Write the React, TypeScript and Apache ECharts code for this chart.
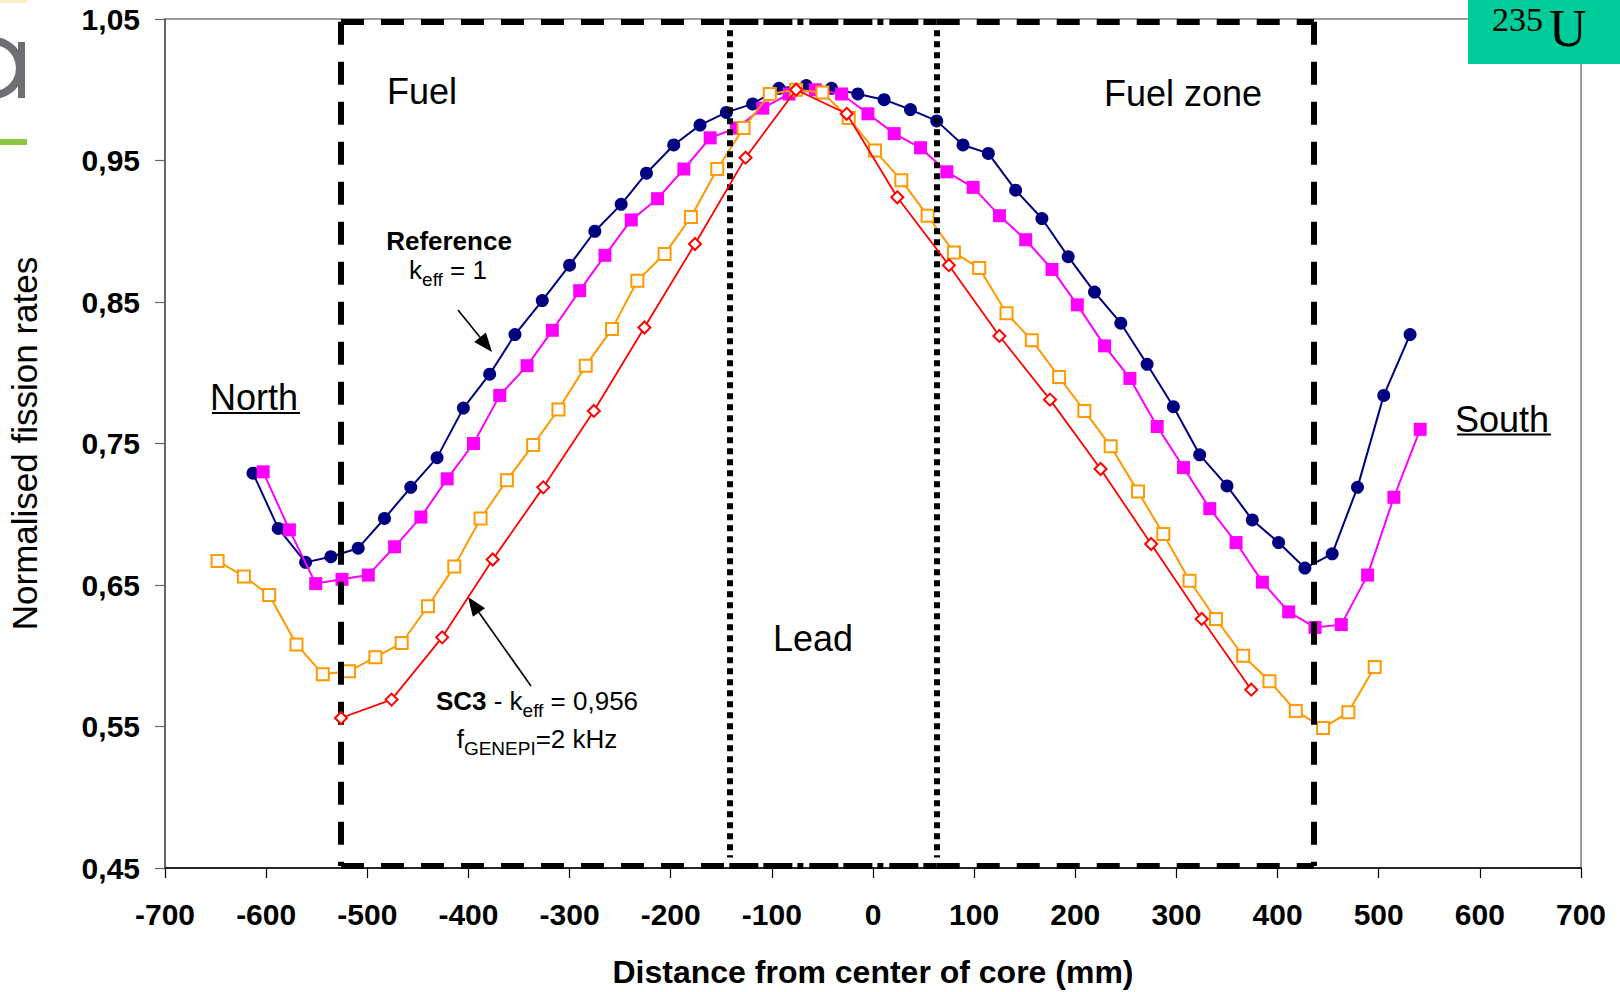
import React, { useEffect, useRef } from "react";
import * as echarts from "echarts";

// ---------- data ----------
const xTicks = { min: -700, max: 700, step: 100 };
const yTicks = { min: 0.45, max: 1.05, step: 0.1 };

// Reference, keff = 1 (navy, filled circles)
const refX = [-613, -588, -561, -536, -509, -483, -457, -431, -405, -379, -354, -327, -300, -275, -249, -224, -197, -171, -145, -119, -93, -66, -41, -15, 11, 37, 63, 89, 114, 141, 167, 193, 219, 245, 271, 297, 323, 350, 375, 401, 427, 454, 479, 505, 531];
const refY = [0.729, 0.690, 0.666, 0.670, 0.676, 0.697, 0.719, 0.740, 0.775, 0.799, 0.827, 0.851, 0.876, 0.900, 0.919, 0.941, 0.961, 0.975, 0.984, 0.990, 1.001, 1.003, 1.001, 0.997, 0.993, 0.986, 0.978, 0.961, 0.955, 0.929, 0.909, 0.882, 0.857, 0.835, 0.806, 0.776, 0.742, 0.720, 0.696, 0.680, 0.662, 0.672, 0.719, 0.784, 0.827];

// second configuration (magenta, filled squares)
const magX = [-603, -577, -551, -525, -499, -473, -447, -421, -395, -369, -342, -317, -290, -265, -239, -213, -187, -161, -135, -109, -83, -57, -31, -5, 21, 47, 73, 99, 125, 151, 177, 202, 229, 254, 281, 307, 333, 359, 385, 411, 437, 463, 489, 515, 541];
const magY = [0.730, 0.689, 0.651, 0.654, 0.657, 0.677, 0.698, 0.725, 0.750, 0.784, 0.805, 0.830, 0.858, 0.883, 0.908, 0.923, 0.944, 0.966, 0.973, 0.987, 0.997, 1.000, 0.997, 0.983, 0.969, 0.959, 0.942, 0.931, 0.911, 0.894, 0.873, 0.848, 0.819, 0.796, 0.762, 0.733, 0.704, 0.680, 0.652, 0.631, 0.620, 0.622, 0.657, 0.712, 0.760];

// third configuration (orange, open squares)
const orgX = [-648, -622, -597, -570, -544, -518, -492, -466, -440, -414, -388, -362, -336, -311, -284, -258, -233, -206, -180, -154, -128, -102, -76, -50, -24, 2, 28, 54, 80, 105, 132, 157, 184, 209, 235, 262, 287, 313, 339, 366, 392, 418, 445, 470, 496];
const orgY = [0.667, 0.656, 0.643, 0.608, 0.587, 0.589, 0.599, 0.609, 0.635, 0.663, 0.697, 0.724, 0.749, 0.774, 0.805, 0.831, 0.865, 0.884, 0.910, 0.944, 0.973, 0.997, 1.000, 0.998, 0.980, 0.957, 0.936, 0.911, 0.885, 0.874, 0.842, 0.823, 0.797, 0.773, 0.748, 0.716, 0.686, 0.653, 0.626, 0.600, 0.582, 0.561, 0.549, 0.560, 0.592];

// SC3, keff = 0,956 (red, open diamonds)
const sc3X = [-526, -476, -426, -376, -326, -276, -226, -176, -126, -76, -26, 24, 75, 125, 175, 225, 275, 325, 374];
const sc3Y = [0.556, 0.569, 0.613, 0.668, 0.719, 0.773, 0.832, 0.891, 0.952, 1.000, 0.983, 0.924, 0.876, 0.826, 0.781, 0.732, 0.679, 0.626, 0.576];

// zone boundaries (mm) and box extent (normalised rate)
const fuelLeft = -526;
const fuelRight = 436;
const leadLeft = -142;
const leadRight = 63;
const boxTop = 1.048;
const boxBottom = 0.4515;

const FONT = "'Liberation Sans', Arial, Helvetica, sans-serif";
const SERIF = "'Liberation Serif', 'Times New Roman', serif";

const zip = (xs: number[], ys: number[]) => xs.map((x, i) => [x, ys[i]]);

const seg = (x1: number, y1: number, x2: number, y2: number, type: any) => [
  { coord: [x1, y1], lineStyle: { color: "#000", width: 6, type, cap: "butt" } },
  { coord: [x2, y2] },
];

const DASH = [23, 17];
const DASHDOT = [29, 5, 29, 5, 6, 6];
const DOT = [6, 5];

function arrow(x1: number, y1: number, x2: number, y2: number) {
  const dx = x2 - x1;
  const dy = y2 - y1;
  const len = Math.sqrt(dx * dx + dy * dy);
  const ux = dx / len;
  const uy = dy / len;
  const hl = 19;
  const hw = 7.5;
  const bx = x2 - ux * hl;
  const by = y2 - uy * hl;
  return [
    { type: "line", shape: { x1, y1, x2: bx, y2: by }, style: { stroke: "#000", lineWidth: 1.6 } },
    {
      type: "polygon",
      shape: { points: [[x2, y2], [bx - uy * hw, by + ux * hw], [bx + uy * hw, by - ux * hw]] },
      style: { fill: "#000" },
    },
  ];
}

const txt = (x: number, y: number, text: string, size: number, align: string, weight = "normal") => ({
  type: "text",
  x,
  y,
  style: {
    text,
    fontSize: size,
    fontFamily: FONT,
    fontWeight: weight,
    fill: "#000",
    align,
    textAlign: align,
    verticalAlign: "middle",
    textVerticalAlign: "middle",
  },
});

const richStyles = {
  b: { fontSize: 26, fontWeight: "bold", fontFamily: FONT, fill: "#000", lineHeight: 30, verticalAlign: "top" },
  n: { fontSize: 26, fontFamily: FONT, fill: "#000", lineHeight: 30, verticalAlign: "top" },
  s: { fontSize: 19, fontFamily: FONT, fill: "#000", lineHeight: 19, padding: [13, 0, 0, 0], verticalAlign: "top" },
};

const rich = (x: number, top: number, text: string) => ({
  type: "text",
  x,
  y: top,
  style: {
    text,
    rich: richStyles,
    fontSize: 26,
    fontFamily: FONT,
    fill: "#000",
    align: "center",
    textAlign: "center",
    verticalAlign: "top",
    textVerticalAlign: "top",
  },
});

const option: any = {
  backgroundColor: "#fff",
  animation: false,
  grid: {
    left: 165,
    right: 39,
    top: 19,
    bottom: 124,
    show: true,
    borderColor: "#9b9b9b",
    borderWidth: 2,
    containLabel: false,
    outerBoundsMode: "none",
  },
  xAxis: {
    type: "value",
    min: xTicks.min,
    max: xTicks.max,
    interval: xTicks.step,
    axisLine: { show: true, onZero: false, lineStyle: { color: "#000", width: 1.5 } },
    axisTick: { show: true, length: 10, lineStyle: { color: "#000", width: 1.2 } },
    splitLine: { show: false },
    axisLabel: {
      fontSize: 30,
      fontWeight: "bold",
      fontFamily: FONT,
      color: "#000",
      margin: 31,
      showMinLabel: true,
      showMaxLabel: true,
      formatter: (v: number) => String(v),
    },
    name: "Distance from center of core (mm)",
    nameLocation: "middle",
    nameGap: 88,
    nameTextStyle: { fontSize: 32, fontWeight: "bold", fontFamily: FONT, color: "#000" },
  },
  yAxis: {
    type: "value",
    min: yTicks.min,
    max: yTicks.max,
    interval: yTicks.step,
    axisLine: { show: true, onZero: false, lineStyle: { color: "#555", width: 1.5 } },
    axisTick: { show: true, length: 10, lineStyle: { color: "#666", width: 1.2 } },
    splitLine: { show: false },
    axisLabel: {
      fontSize: 30,
      fontWeight: "bold",
      fontFamily: FONT,
      color: "#000",
      margin: 25,
      showMinLabel: true,
      showMaxLabel: true,
      formatter: (v: number) => v.toFixed(2).replace(".", ","),
    },
    name: "Normalised fission rates",
    nameLocation: "middle",
    nameRotate: 90,
    nameGap: 123,
    nameTextStyle: { fontSize: 35, fontFamily: FONT, color: "#000" },
  },
  series: [
    {
      name: "Reference (keff = 1)",
      type: "line",
      data: zip(refX, refY),
      symbol: "circle",
      symbolSize: 13,
      itemStyle: { color: "#000080" },
      lineStyle: { color: "#000080", width: 2 },
      z: 2,
    },
    {
      name: "Configuration 2",
      type: "line",
      data: zip(magX, magY),
      symbol: "rect",
      symbolSize: 13,
      itemStyle: { color: "#FF00FF" },
      lineStyle: { color: "#FF00FF", width: 2 },
      z: 3,
    },
    {
      name: "Configuration 3",
      type: "line",
      data: zip(orgX, orgY),
      symbol: "emptyRect",
      symbolSize: 12,
      itemStyle: { color: "#FF9900", borderWidth: 2 },
      lineStyle: { color: "#FF9900", width: 2 },
      z: 4,
    },
    {
      name: "SC3 (keff = 0,956)",
      type: "line",
      data: zip(sc3X, sc3Y),
      symbol: "emptyDiamond",
      symbolSize: 12,
      itemStyle: { color: "#FF0000", borderWidth: 1.6 },
      lineStyle: { color: "#FF0000", width: 1.8 },
      z: 5,
    },
    {
      name: "zones",
      type: "line",
      data: [],
      z: 6,
      silent: true,
      markLine: {
        silent: true,
        symbol: ["none", "none"],
        label: { show: false },
        emphasis: { disabled: true },
        data: [
          seg(fuelLeft, boxTop, fuelLeft, boxBottom, DASH),
          seg(fuelRight, boxTop, fuelRight, boxBottom, DASH),
          seg(fuelLeft, boxTop, leadLeft, boxTop, DASH),
          seg(leadLeft, boxTop, leadRight, boxTop, DASHDOT),
          seg(leadRight, boxTop, fuelRight, boxTop, DASH),
          seg(fuelLeft, boxBottom, leadLeft, boxBottom, DASH),
          seg(leadLeft, boxBottom, leadRight, boxBottom, DASHDOT),
          seg(leadRight, boxBottom, fuelRight, boxBottom, DASH),
          seg(leadLeft, boxTop - 0.006, leadLeft, boxBottom + 0.006, DOT),
          seg(leadRight, boxTop - 0.006, leadRight, boxBottom + 0.006, DOT),
        ],
      },
    },
  ],
  graphic: [
    // logo fragments at the left edge
    { type: "rect", shape: { x: 0, y: 0, width: 27, height: 3 }, style: { fill: "#f6f1c6" } },
    { type: "circle", shape: { cx: -7, cy: 68, r: 27 }, style: { fill: "none", stroke: "#6d6f72", lineWidth: 8 } },
    { type: "rect", shape: { x: 18, y: 42, width: 7, height: 56 }, style: { fill: "#6d6f72" } },
    { type: "rect", shape: { x: 0, y: 139, width: 27, height: 6 }, style: { fill: "#8cc63f" } },
    // 235U badge
    { type: "rect", shape: { x: 1468, y: 0, width: 152, height: 64 }, style: { fill: "#00CC99" } },
    {
      type: "text",
      x: 1492,
      y: 2,
      style: { text: "235", fontSize: 34, fontFamily: SERIF, fill: "#000", align: "left", textAlign: "left", verticalAlign: "top", textVerticalAlign: "top" },
    },
    {
      type: "text",
      x: 1549,
      y: 2,
      style: { text: "U", fontSize: 52, fontFamily: SERIF, fill: "#000", align: "left", textAlign: "left", verticalAlign: "top", textVerticalAlign: "top" },
    },
    // zone labels
    txt(387, 91, "Fuel", 36, "left"),
    txt(1104, 93, "Fuel zone", 36, "left"),
    txt(773, 638, "Lead", 36, "left"),
    txt(210, 397, "North", 36, "left"),
    { type: "line", shape: { x1: 212, y1: 413, x2: 300, y2: 413 }, style: { stroke: "#000", lineWidth: 2 } },
    txt(1455, 419, "South", 36, "left"),
    { type: "line", shape: { x1: 1457, y1: 434.5, x2: 1551, y2: 434.5 }, style: { stroke: "#000", lineWidth: 2 } },
    // curve annotations
    txt(449, 241, "Reference", 26, "center", "bold"),
    rich(448, 257, "{n|k}{s|eff}{n| = 1}"),
    ...arrow(458, 310, 492, 352),
    rich(537, 688, "{b|SC3}{n| - k}{s|eff}{n| = 0,956}"),
    rich(537, 726, "{n|f}{s|GENEPI}{n|=2 kHz}"),
    ...arrow(531, 686, 468, 597),
  ],
};

export default function App() {
  const ref = useRef<HTMLDivElement>(null);
  useEffect(() => {
    document.body.style.margin = "0";
    document.body.style.overflow = "hidden";
    const chart = echarts.init(ref.current as HTMLDivElement, null, { renderer: "svg" });
    chart.setOption(option);
    return () => {
      chart.dispose();
    };
  }, []);
  return <div ref={ref} style={{ width: 1620, height: 992, background: "#fff" }} />;
}
